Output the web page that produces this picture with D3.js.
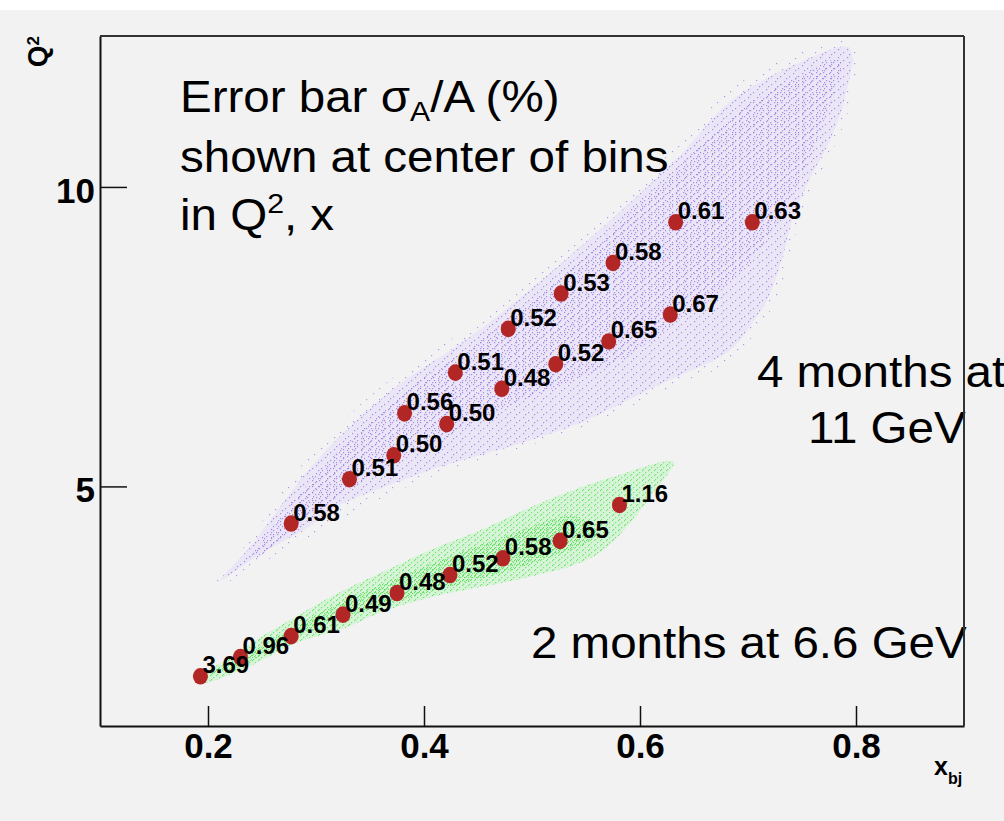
<!DOCTYPE html>
<html>
<head>
<meta charset="utf-8">
<script src="https://cdn.jsdelivr.net/npm/d3@7"></script>
<style>
  body { margin: 0; background: #f2f2f2; }
  svg { display: block; }
</style>
</head>
<body>
<svg id="chart" width="1004" height="821"></svg>
<script>
// 11 GeV bins (4 months): x_bj, Q^2 and sigma_A/A (%)
const x11 = [0.277, 0.331, 0.372, 0.382, 0.421, 0.429, 0.472, 0.478, 0.522, 0.527, 0.571, 0.575, 0.628, 0.633, 0.704];
const q11 = [4.38, 5.12, 5.52, 6.22, 6.04, 6.90, 6.63, 7.63, 7.04, 8.22, 7.42, 8.73, 7.87, 9.41, 9.41];
const err11 = ["0.58", "0.51", "0.50", "0.56", "0.50", "0.51", "0.48", "0.52", "0.52", "0.53", "0.65", "0.58", "0.67", "0.61", "0.63"];

// 6.6 GeV bins (2 months)
const x66 = [0.193, 0.230, 0.277, 0.325, 0.375, 0.424, 0.473, 0.526, 0.581];
const q66 = [1.83, 2.15, 2.50, 2.86, 3.22, 3.52, 3.80, 4.09, 4.69];
const err66 = ["3.69", "0.96", "0.61", "0.49", "0.48", "0.52", "0.58", "0.65", "1.16"];

// outline of the simulated event clouds, [x_bj, Q^2]
const halo11 = [[0.205, 3.30], [0.236, 4.05], [0.298, 5.60], [0.370, 6.80], [0.444, 7.70], [0.546, 9.20],
  [0.634, 10.68], [0.682, 11.60], [0.748, 12.25], [0.798, 12.42], [0.796, 11.50], [0.782, 10.75],
  [0.762, 10.05], [0.747, 9.40], [0.737, 8.70], [0.724, 8.05], [0.704, 7.50], [0.678, 7.02],
  [0.640, 6.74], [0.590, 6.32], [0.540, 5.94], [0.490, 5.64], [0.440, 5.37], [0.390, 5.04],
  [0.330, 4.52], [0.280, 4.02], [0.240, 3.62]];
const cloud11 = [[0.212, 3.44], [0.238, 3.97], [0.302, 5.46], [0.374, 6.66], [0.446, 7.54], [0.548, 9.05],
  [0.637, 10.53], [0.684, 11.43], [0.748, 12.08], [0.794, 12.32], [0.790, 11.50], [0.776, 10.78],
  [0.757, 10.12], [0.742, 9.50], [0.732, 8.83], [0.719, 8.16], [0.704, 7.73], [0.688, 7.35],
  [0.670, 7.12], [0.644, 6.91], [0.594, 6.49], [0.551, 6.11], [0.507, 5.82], [0.461, 5.57],
  [0.421, 5.36], [0.375, 5.07], [0.319, 4.66], [0.292, 4.31], [0.251, 3.90]];
const core11 = [[0.239, 3.77], [0.304, 5.27], [0.378, 6.53], [0.452, 7.44], [0.554, 8.95], [0.637, 10.37],
  [0.693, 11.28], [0.757, 11.95], [0.785, 12.12], [0.767, 10.95], [0.739, 9.78], [0.711, 8.95],
  [0.674, 8.28], [0.637, 7.78], [0.581, 7.11], [0.526, 6.69], [0.470, 6.28], [0.415, 5.77],
  [0.359, 5.27], [0.304, 4.61], [0.257, 3.94]];
const cloud66 = [[0.186, 1.85], [0.205, 1.98], [0.245, 2.44], [0.276, 2.77], [0.313, 3.15], [0.359, 3.55],
  [0.406, 3.94], [0.452, 4.27], [0.514, 4.77], [0.575, 5.16], [0.631, 5.41], [0.612, 4.89],
  [0.591, 4.39], [0.566, 3.94], [0.544, 3.72], [0.498, 3.49], [0.452, 3.32], [0.406, 3.15],
  [0.359, 2.89], [0.329, 2.65], [0.282, 2.39], [0.236, 1.98], [0.193, 1.72]];
const core66 = [[0.200, 1.86], [0.245, 2.30], [0.313, 2.98], [0.406, 3.70], [0.480, 4.20], [0.540, 4.50],
  [0.560, 4.20], [0.498, 3.70], [0.430, 3.35], [0.359, 3.00], [0.282, 2.50], [0.236, 2.05]];

const xMajor = [0.2, 0.4, 0.6, 0.8];
const xMinor = [0.15, 0.25, 0.3, 0.35, 0.45, 0.5, 0.55, 0.65, 0.7, 0.75, 0.85];
const yMajor = [5, 10];
const yMinor = [2, 3, 4, 6, 7, 8, 9, 11, 12];

const svg = d3.select("#chart");
const frameL = 100, frameR = 964, frameT = 36, frameB = 726;

// check if the narrow font is there, otherwise squeeze the normal one
function textWidth(font, s) {
    const c = document.createElement("canvas").getContext("2d");
    c.font = font;
    return c.measureText(s).width;
}
const hasNarrow = textWidth('bold 20px "Liberation Sans Narrow"', "0.58") <
    0.9 * textWidth('bold 20px "Liberation Sans"', "0.58");
const numFont = hasNarrow ? '"Liberation Sans Narrow", sans-serif' : '"Liberation Sans", Arial, sans-serif';
const squeeze = hasNarrow ? 1 : 0.82;
const textFont = '"Liberation Sans", Arial, Helvetica, sans-serif';
const widen = 1.08;

svg.append("rect").attr("width", 1004).attr("height", 821).attr("fill", "#f2f2f2");
svg.append("rect").attr("width", 1004).attr("height", 10).attr("fill", "#ffffff");

const x = d3.scaleLinear().domain([0.1, 0.9]).range([frameL, frameR]);
const y = d3.scaleLinear().domain([1, 12.52]).range([frameB, frameT]);

// speckle patterns for the event clouds
const defs = svg.append("defs");
function dotPattern(id, w, h, dots, color) {
    const p = defs.append("pattern")
        .attr("id", id)
        .attr("patternUnits", "userSpaceOnUse")
        .attr("width", w)
        .attr("height", h);
    dots.forEach((d) => {
        p.append("rect").attr("x", d[0]).attr("y", d[1])
            .attr("width", 1.2).attr("height", 1.2).attr("fill", color);
    });
}
dotPattern("purpleHalo", 13, 11, [[2, 3], [9, 8]], "#ad94ec");
dotPattern("purpleSparse", 9, 8, [[1, 1], [6, 4], [3, 6]], "#a68aea");
dotPattern("purpleDense", 7, 6, [[0, 2], [4, 0], [5, 4]], "#9878e4");
dotPattern("greenSparse", 6, 5, [[0, 0], [3, 2], [1, 4]], "#70e470");
dotPattern("greenDense", 4, 4, [[0, 1], [2, 0], [3, 3]], "#5ade5a");

const outline = d3.line()
    .x((d) => x(d[0]))
    .y((d) => y(d[1]))
    .curve(d3.curveCatmullRomClosed.alpha(0.5));

svg.append("path").attr("d", outline(halo11)).attr("fill", "url(#purpleHalo)");
svg.append("path").attr("d", outline(cloud11)).attr("fill", "#ebe6f6");
svg.append("path").attr("d", outline(cloud11)).attr("fill", "url(#purpleSparse)");
svg.append("path").attr("d", outline(core11)).attr("fill", "url(#purpleDense)").attr("opacity", 0.8);

svg.append("path").attr("d", outline(cloud66)).attr("fill", "#d8f4d8");
svg.append("path").attr("d", outline(cloud66)).attr("fill", "url(#greenSparse)");
svg.append("path").attr("d", outline(core66)).attr("fill", "url(#greenDense)").attr("opacity", 0.9);

// axes, ROOT style: ticks pointing inwards
const gx = svg.append("g").attr("transform", `translate(0,${frameB})`);
gx.call(d3.axisBottom(x).tickValues(xMinor).tickSizeInner(-10).tickSizeOuter(0).tickFormat(""));
gx.call(d3.axisBottom(x).tickValues(xMajor).tickSizeInner(-20).tickSizeOuter(0)
    .tickPadding(7).tickFormat(d3.format(".1f")));
gx.selectAll("path.domain").attr("stroke", "#111").attr("stroke-width", 2);
gx.selectAll("line").attr("stroke", "#111").attr("stroke-width", 1.5);
gx.selectAll("text")
    .attr("fill", "#000")
    .style("font-family", numFont)
    .style("font-weight", "bold")
    .style("font-size", "35px")
    .attr("transform", `scale(${squeeze},1)`);

const gy = svg.append("g").attr("transform", `translate(${frameL},0)`);
gy.call(d3.axisLeft(y).tickValues(yMinor).tickSizeInner(-14).tickSizeOuter(0).tickFormat(""));
gy.call(d3.axisLeft(y).tickValues(yMajor).tickSizeInner(-27).tickSizeOuter(0)
    .tickPadding(5).tickFormat(d3.format("d")));
gy.selectAll("path.domain").attr("stroke", "#111").attr("stroke-width", 2);
gy.selectAll("line").attr("stroke", "#111").attr("stroke-width", 1.5);
gy.selectAll("text")
    .attr("fill", "#000")
    .attr("dy", "0.44em")
    .style("font-family", numFont)
    .style("font-weight", "bold")
    .style("font-size", "35px")
    .attr("transform", `scale(${squeeze},1)`);

// axis titles
const qTitle = svg.append("text")
    .attr("transform", "translate(47,36) rotate(-90)")
    .attr("text-anchor", "end")
    .style("font-family", textFont)
    .style("font-weight", "bold")
    .style("font-size", "28px");
qTitle.append("tspan").text("Q");
qTitle.append("tspan").attr("dy", "-0.45em").style("font-size", "17px").text("2");

const xTitle = svg.append("text")
    .attr("x", 934).attr("y", 775)
    .style("font-family", textFont)
    .style("font-weight", "bold")
    .style("font-size", "25px");
xTitle.append("tspan").text("x");
xTitle.append("tspan").attr("dy", 9).style("font-size", "16px").text("bj");

// annotation text, the original is a bit wider than the font
const note = svg.append("g")
    .style("font-family", textFont)
    .style("font-size", "44px")
    .attr("fill", "#000");
function noteLine(px, py) {
    return note.append("text").attr("transform", `translate(${px},${py}) scale(${widen},1)`);
}
const l1 = noteLine(180, 112);
l1.append("tspan").text("Error bar σ");
l1.append("tspan").attr("dy", 9).style("font-size", "28px").text("A");
l1.append("tspan").attr("dy", -9).text("/A (%)");
noteLine(180, 172).text("shown at center of bins");
const l3 = noteLine(180, 230);
l3.append("tspan").text("in Q");
l3.append("tspan").attr("dy", -17).style("font-size", "28px").text("2");
l3.append("tspan").attr("dy", 17).text(", x");

noteLine(757, 387).text("4 months at");
noteLine(808, 443).text("11 GeV");
noteLine(531, 658).text("2 months at 6.6 GeV");

// bin centres with their error labels
function drawBins(xs, qs, errs) {
    const data = xs.map((v, i) => ({ x: v, q: qs[i], e: errs[i] }));
    svg.append("g").selectAll("ellipse")
        .data(data)
        .enter()
        .append("ellipse")
        .attr("cx", (d) => x(d.x))
        .attr("cy", (d) => y(d.q))
        .attr("rx", 7.5)
        .attr("ry", 8.3)
        .attr("fill", "#b32626");
    svg.append("g").selectAll("text")
        .data(data)
        .enter()
        .append("text")
        .attr("transform", (d) => `translate(${x(d.x) + 2},${y(d.q) - 3}) scale(${squeeze},1)`)
        .text((d) => d.e)
        .style("font-family", numFont)
        .style("font-weight", "bold")
        .style("font-size", "24px")
        .attr("fill", "#000");
}
drawBins(x11, q11, err11);
drawBins(x66, q66, err66);

// frame top and right, drawn over the text like the original
svg.append("line").attr("x1", frameL).attr("x2", frameR).attr("y1", frameT).attr("y2", frameT)
    .attr("stroke", "#333").attr("stroke-width", 2);
svg.append("line").attr("x1", frameR).attr("x2", frameR).attr("y1", frameT).attr("y2", frameB)
    .attr("stroke", "#333").attr("stroke-width", 2);
</script>
</body>
</html>
